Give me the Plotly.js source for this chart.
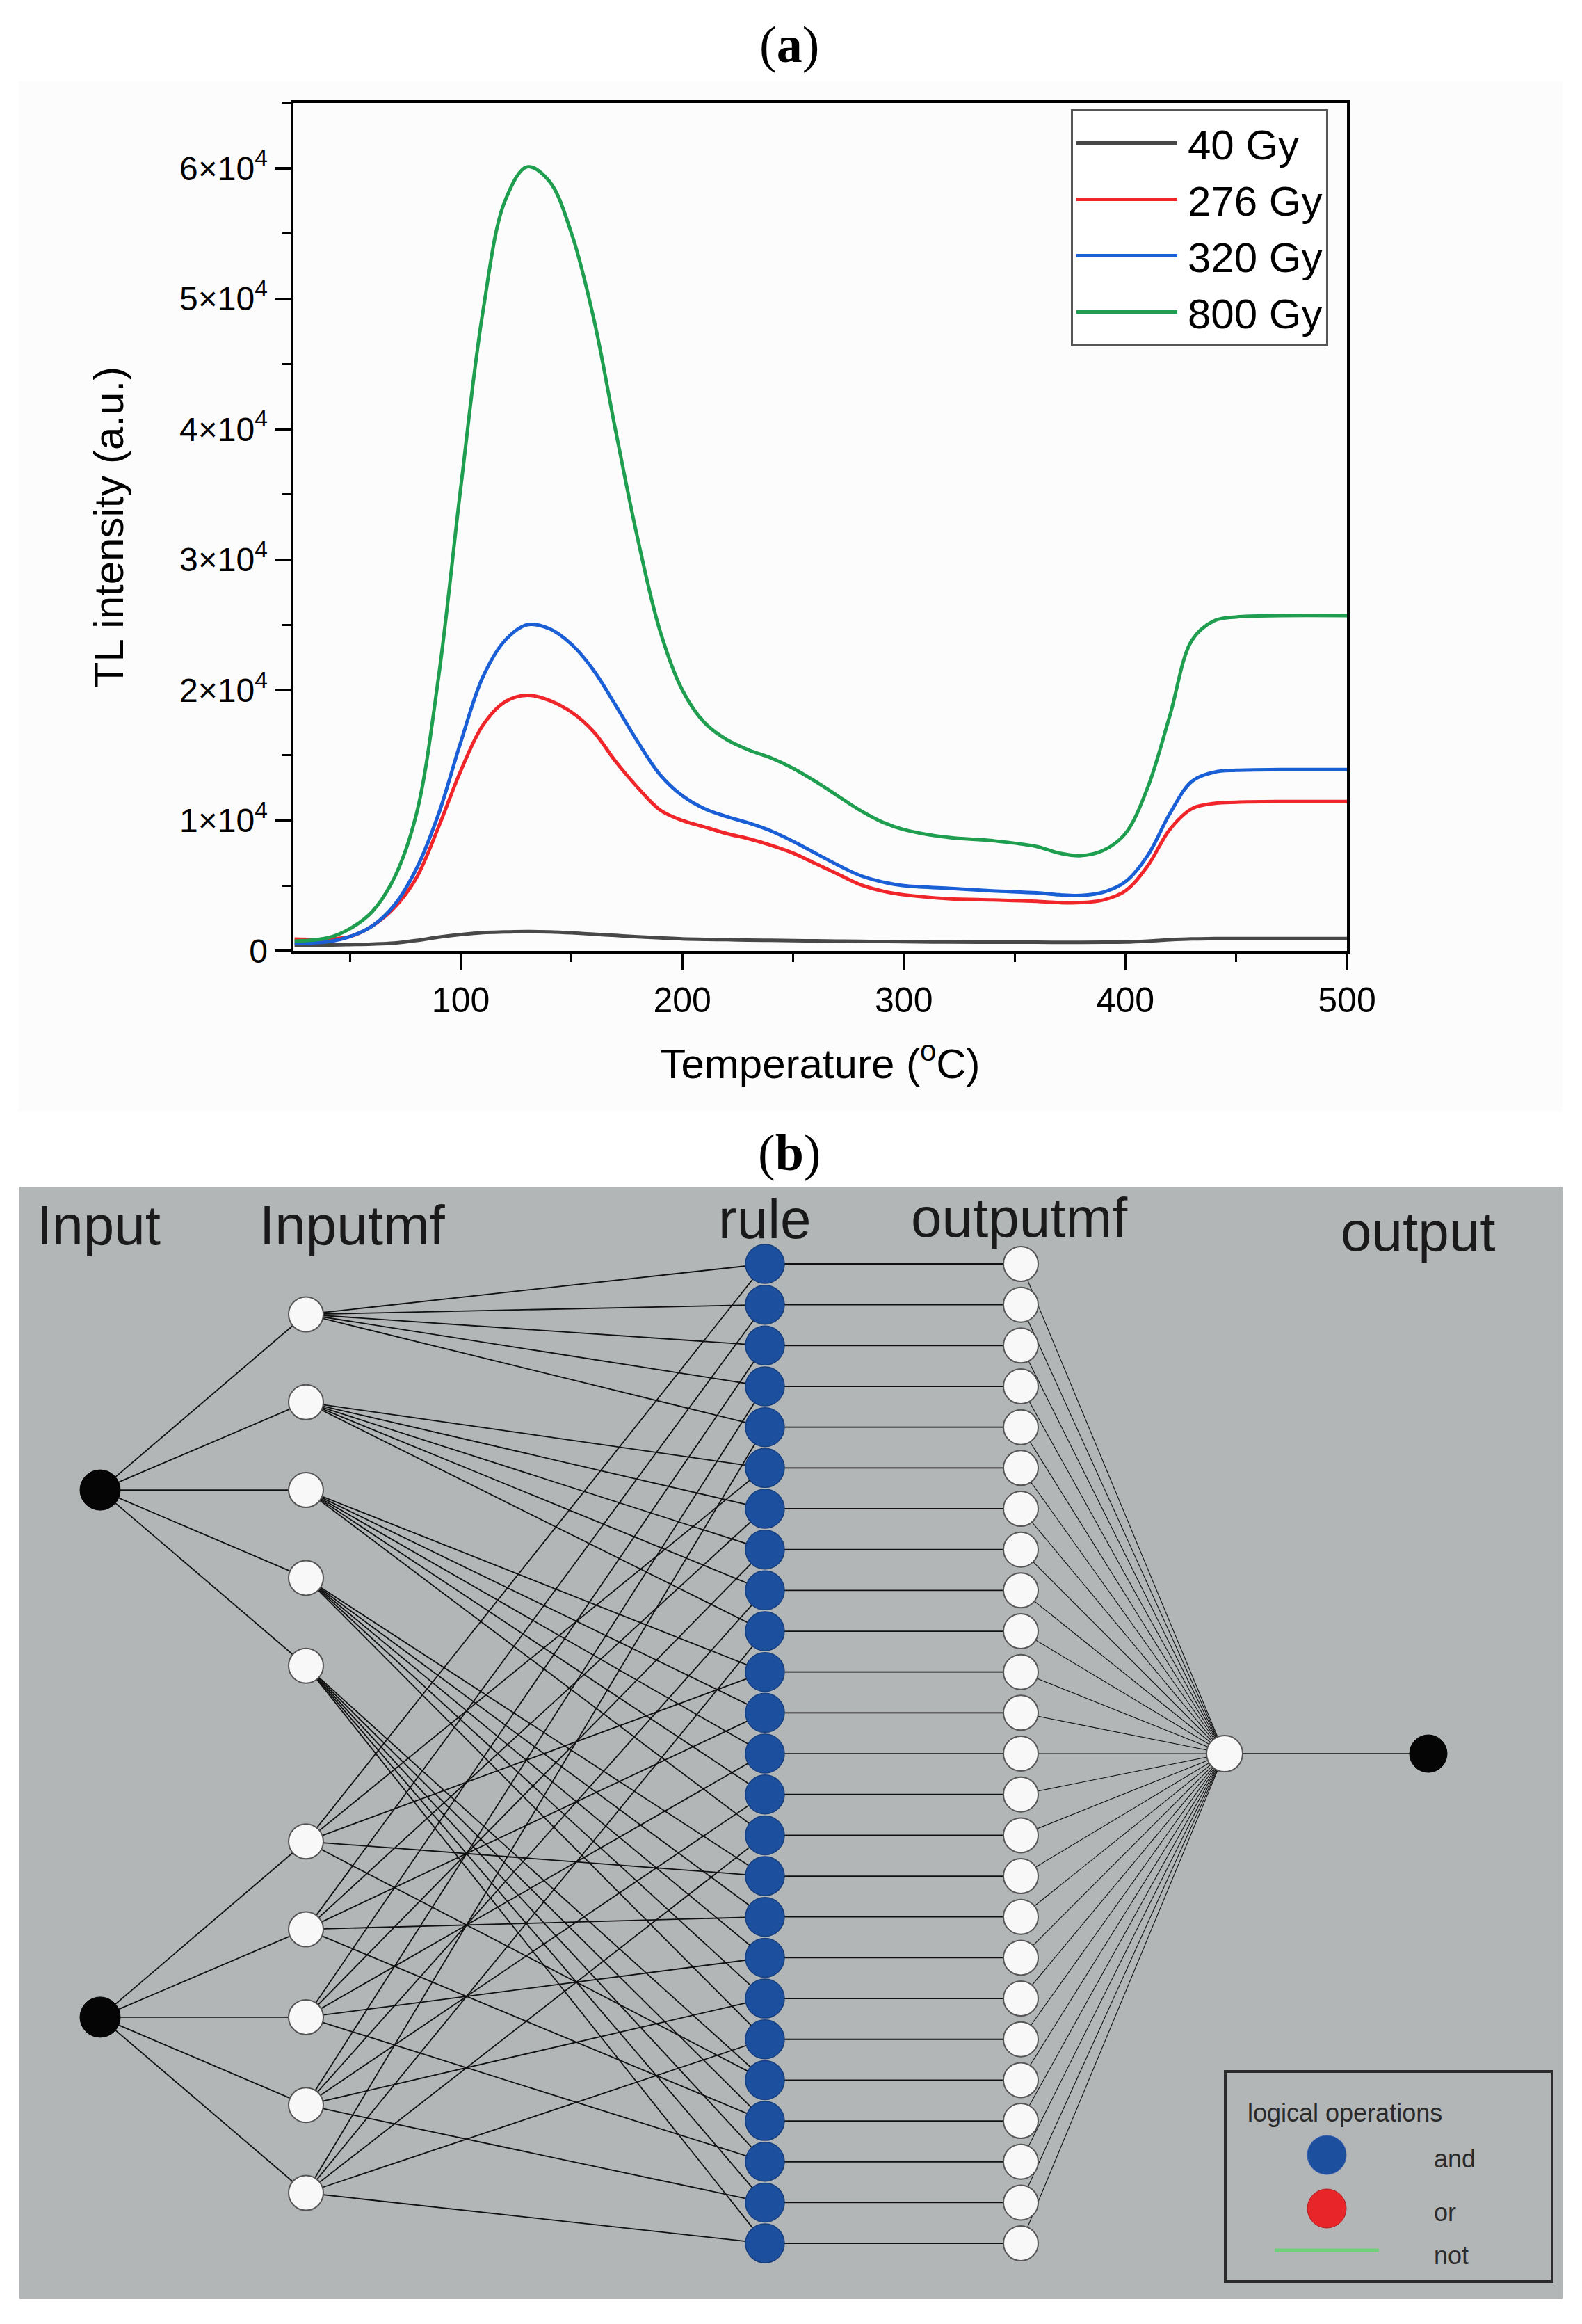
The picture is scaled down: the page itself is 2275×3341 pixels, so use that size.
<!DOCTYPE html>
<html><head><meta charset="utf-8">
<script src="https://cdn.plot.ly/plotly-3.0.1.min.js"></script>
<style>html,body{margin:0;padding:0;background:#fff}#chart{width:2275px;height:3341px}</style>
</head><body><div id="chart"></div>
<script>
// ===== Panel (a) data =====
const temperature = [25,40,50,60,70,80,90,100,110,120,130,140,150,160,170,180,190,200,210,220,230,240,250,260,270,280,290,300,320,340,360,370,380,390,400,410,420,430,440,450,470,500];
const seriesNames = ['40 Gy','276 Gy','320 Gy','800 Gy'];
const tl40  = [450,450,480,520,600,800,1050,1250,1400,1450, 1480,1450,1380,1280,1180,1080,1000,920,880,860, 830,810,790,770,750,730,720,700, 680,670,660,650,650,660,680, 750,850,920,940,950,950,950];
const tl276 = [900,900,1100,1900,3300,5600,9500,13800,17300,19100, 19600,19200,18300,16800,14500,12500,10800,10000,9500,9000, 8600,8100,7500,6700,5900,5100,4600,4300, 4000,3900,3800,3700,3700,3900,4600, 6500,9300,10900,11300,11400,11450,11450];
const tl320 = [600,700,1100,1900,3500,6300,10500,16000,21000,23800, 25000,24700,23500,21500,18800,16000,13500,11900,10900,10300, 9800,9200,8400,7500,6600,5800,5300,5000, 4800,4600,4450,4300,4250,4500,5300, 7300,10500,13000,13700,13850,13900,13900];
const tl800 = [750,1000,1700,3000,5600,10500,21000,35500,49000,57500, 60100,59000,55000,48500,39800,31500,24500,20000,17500,16200, 15400,14800,14000,13000,11900,10800,9900,9300, 8700,8450,8000,7500,7300,7700,9000, 12500,18000,23800,25300,25600,25700,25700];
const yTickVals = [0,10000,20000,30000,40000,50000,60000];
const yTickText = ['0','1×10<sup>4</sup>','2×10<sup>4</sup>','3×10<sup>4</sup>','4×10<sup>4</sup>','5×10<sup>4</sup>','6×10<sup>4</sup>'];

// ===== Panel (b) structure =====
const layerLabels = ['Input','Inputmf','rule','outputmf','output'];
const nInputs = 2;
const mfsPerInput = 5;
const nRules = 25;
const legendTitle = 'logical operations';
const legendOps = ['and','or','not'];

// ===== layout constants =====
const W = 2275, H = 3341;
const FONT = 'Liberation Sans, Arial, sans-serif';
const SERIF = 'Liberation Serif, Times New Roman, serif';
const colors = ['#484848','#f0262b','#1a5fd6','#1f9e50'];
const px = v => v / W;          // pixel -> paper x
const py = v => 1 - v / H;      // pixel -> paper y

const geo = {inputX:144, mfX:440, ruleX:1100, omfX:1468, aggX:1761, outX:2054,
             ruleTop:1817, ruleStep:58.67, mfTop:1889.5, mfStep:126.3};
const labelX = [142, 507, 1099, 1466, 2039];
const labelY = [1761, 1761, 1752, 1750, 1770];

// ---- panel (a) traces ----
const seriesY = [tl40, tl276, tl320, tl800];
const traces = seriesNames.map((n,i)=>({
  type:'scatter', mode:'lines', x:temperature, y:seriesY[i], name:n,
  line:{color:colors[i], width:5, shape:'spline', smoothing:1.0},
  xaxis:'x', yaxis:'y', hoverinfo:'skip'
}));

// ---- panel (b) geometry computed from structure ----
const mfY = [];
for (let i=0;i<nInputs;i++){
  mfY.push([]);
  for (let j=0;j<mfsPerInput;j++){
    const slot = i*(mfsPerInput+1)+j;
    mfY[i].push(geo.mfTop + slot*geo.mfStep);
  }
}
const inY = mfY.map(a => (a[0]+a[a.length-1])/2);
const ruleY = Array.from({length:nRules},(_,k)=>geo.ruleTop + k*geo.ruleStep);
const aggY = (ruleY[0]+ruleY[nRules-1])/2;
const ruleAnte = ruleY.map((_,k)=>[Math.floor(k/mfsPerInput), k%mfsPerInput]);

const ex=[], ey=[], ex2=[], ey2=[];
function seg(ax,ay,bx,by,thin){ if(thin){ex2.push(ax,bx,null);ey2.push(ay,by,null);} else {ex.push(ax,bx,null);ey.push(ay,by,null);} }
for (let i=0;i<nInputs;i++) for (let j=0;j<mfsPerInput;j++) seg(geo.inputX,inY[i],geo.mfX,mfY[i][j]);
ruleY.forEach((y,k)=>{
  seg(geo.mfX, mfY[0][ruleAnte[k][0]], geo.ruleX, y);
  seg(geo.mfX, mfY[1][ruleAnte[k][1]], geo.ruleX, y);
  seg(geo.ruleX, y, geo.omfX, y);
  seg(geo.omfX, y, geo.aggX, aggY, true);
});
seg(geo.aggX, aggY, geo.outX, aggY);

const net = {xaxis:'x2', yaxis:'y2', showlegend:false, hoverinfo:'skip', type:'scatter'};
traces.push(Object.assign({}, net, {mode:'lines', x:ex, y:ey, line:{color:'#111', width:1.8}}));
traces.push(Object.assign({}, net, {mode:'lines', x:ex2, y:ey2, line:{color:'#111', width:1.1}}));
const white = {color:'#f8f8f8', line:{color:'#555', width:2}};
traces.push(Object.assign({}, net, {mode:'markers', x:inY.map(()=>geo.inputX), y:inY, marker:{size:58, color:'#050505', line:{color:'#000', width:1}}}));
traces.push(Object.assign({}, net, {mode:'markers', x:mfY.flat().map(()=>geo.mfX), y:mfY.flat(), marker:Object.assign({size:50}, white)}));
traces.push(Object.assign({}, net, {mode:'markers', x:ruleY.map(()=>geo.ruleX), y:ruleY, marker:{size:56, color:'#1c4f9e', line:{color:'#163f80', width:1.5}}}));
traces.push(Object.assign({}, net, {mode:'markers', x:ruleY.map(()=>geo.omfX), y:ruleY, marker:Object.assign({size:50}, white)}));
traces.push(Object.assign({}, net, {mode:'markers', x:[geo.aggX], y:[aggY], marker:Object.assign({size:52}, white)}));
traces.push(Object.assign({}, net, {mode:'markers', x:[geo.outX], y:[aggY], marker:{size:54, color:'#050505', line:{color:'#000', width:1}}}));

// ---- shapes & annotations ----
const shapes = [
  {type:'rect', xref:'paper', yref:'paper', x0:px(26), x1:px(2247), y0:py(117), y1:py(1598), fillcolor:'#fcfcfc', line:{width:0}, layer:'below'},
  {type:'rect', xref:'paper', yref:'paper', x0:px(28), x1:px(2247), y0:py(1706), y1:py(3305), fillcolor:'#b3b6b7', line:{width:0}, layer:'below'},
  {type:'rect', xref:'x2', yref:'y2', x0:1762, x1:2232, y0:2978, y1:3280, fillcolor:'rgba(0,0,0,0)', line:{color:'#2b2b2b', width:4}},
  {type:'circle', xref:'x2', yref:'y2', x0:1880, x1:1936, y0:3070, y1:3126, fillcolor:'#1c4f9e', line:{color:'#3a5fb0', width:1}},
  {type:'circle', xref:'x2', yref:'y2', x0:1880, x1:1936, y0:3147, y1:3203, fillcolor:'#e8262a', line:{color:'#b01a1e', width:1}},
  {type:'line', xref:'x2', yref:'y2', x0:1833, x1:1983, y0:3235, y1:3235, line:{color:'#6fd07a', width:5}}
];
const annotations = [
  {xref:'x2', yref:'y2', x:1135, y:64, text:'(<b>a</b>)', showarrow:false, font:{family:SERIF, size:74, color:'#000'}},
  {xref:'x2', yref:'y2', x:1135, y:1657, text:'(<b>b</b>)', showarrow:false, font:{family:SERIF, size:74, color:'#000'}}
];
layerLabels.forEach((t,i)=>annotations.push({xref:'x2', yref:'y2', x:labelX[i], y:labelY[i], text:t, showarrow:false, font:{family:FONT, size:80, color:'#1a1a1a'}}));
annotations.push({xref:'x2', yref:'y2', x:1792, y:3037, xanchor:'left', text:legendTitle, showarrow:false, font:{family:FONT, size:36, color:'#2a2a2a'}});
const opY = [3103, 3180, 3242];
legendOps.forEach((t,i)=>annotations.push({xref:'x2', yref:'y2', x:2060, y:opY[i], xanchor:'left', text:t, showarrow:false, font:{family:FONT, size:36, color:'#2a2a2a'}}));

const layout = {
  width:W, height:H, margin:{l:0,r:0,t:0,b:0,pad:0},
  paper_bgcolor:'#ffffff', plot_bgcolor:'rgba(0,0,0,0)',
  hovermode:false, dragmode:false,
  font:{family:FONT, color:'#000'},
  showlegend:true,
  legend:{x:px(1540), y:py(157), xanchor:'left', yanchor:'top', bgcolor:'#ffffff', bordercolor:'#555', borderwidth:3,
          font:{size:60, family:FONT, color:'#000'}, itemwidth:155, tracegroupgap:0},
  xaxis:{domain:[px(422),px(1937)], range:[24.5,500], anchor:'y', tickmode:'linear', tick0:0, dtick:100,
         ticks:'outside', ticklen:23, tickwidth:3.5, tickcolor:'#000',
         minor:{tickmode:'linear', tick0:0, dtick:50, ticks:'outside', ticklen:11, tickwidth:3, tickcolor:'#000', showgrid:false},
         showline:true, linewidth:4.5, linecolor:'#000', mirror:true, showgrid:false, zeroline:false,
         tickfont:{size:50, family:FONT, color:'#000'},
         title:{text:'Temperature (<sup>o</sup>C)', font:{size:60, family:FONT, color:'#000'}, standoff:45}},
  yaxis:{domain:[py(1367), py(148)], range:[0,65000], anchor:'x', tickmode:'array', tickvals:yTickVals, ticktext:yTickText,
         ticks:'outside', ticklen:23, tickwidth:3.5, tickcolor:'#000',
         minor:{tickmode:'linear', tick0:0, dtick:5000, ticks:'outside', ticklen:12, tickwidth:3, tickcolor:'#000', showgrid:false},
         showline:true, linewidth:4.5, linecolor:'#000', mirror:true, showgrid:false, zeroline:false,
         tickfont:{size:48, family:FONT, color:'#000'},
         title:{text:'TL intensity (a.u.)', font:{size:60, family:FONT, color:'#000'}, standoff:62}},
  xaxis2:{domain:[0,1], range:[0,W], anchor:'y2', visible:false, fixedrange:true},
  yaxis2:{domain:[0,1], range:[H,0], anchor:'x2', visible:false, fixedrange:true},
  shapes:shapes, annotations:annotations
};

Plotly.newPlot('chart', traces, layout, {staticPlot:true, displayModeBar:false}).then(gd=>{
  gd.querySelectorAll('.legend .legendlines path').forEach(p=>p.setAttribute('d','M5,0h145'));
});
</script>
</body></html>
